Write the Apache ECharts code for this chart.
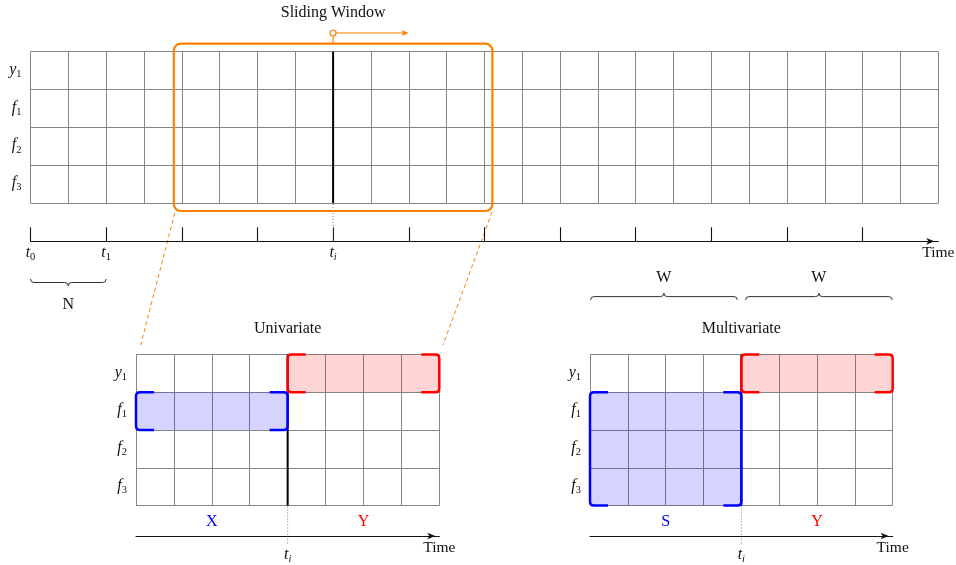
<!DOCTYPE html>
<html><head><meta charset="utf-8">
<script src="https://cdn.jsdelivr.net/npm/echarts@6/dist/echarts.min.js"></script>
<style>html,body{margin:0;padding:0;background:#fff}#c{width:956px;height:565px}</style>
</head><body><div id="c"></div>
<script>
// ---------------- data ----------------
const rowLabels = ['y_1', 'f_1', 'f_2', 'f_3'];          // top to bottom
const rows = 4;
const topColumns = 24;
const windowCols = 8;
const windowSpan = [4, 12];                               // columns covered by sliding window
const tiColumn = 8;                                       // t_i in the long series
const tiLower = 4;                                        // t_i in the zoomed window
const topTickValues = [0, 2, 4, 6, 8, 10, 12, 14, 16, 18, 20, 22];
const timeLabelValues = [0, 2, 8];
const timeLabelText = ['t_0', 't_1', 't_i'];
const braceN = [0, 2];
const halfLabelValues = [2, 6];
const uniHalfLabels = ['X', 'Y'];
const multiHalfLabels = ['S', 'Y'];
const uniBoxes = [
  { x: [0, 4], y: [2, 3], kind: 'in' },
  { x: [4, 8], y: [3, 4], kind: 'out' }
];
const multiBoxes = [
  { x: [0, 4], y: [0, 3], kind: 'in' },
  { x: [4, 8], y: [3, 4], kind: 'out' }
];
const multiBraces = [[0, 4], [4, 8]];
const braceLabels = ['W', 'W'];

// ---------------- style ----------------
const FONT = '"Liberation Serif", "DejaVu Serif", serif';
const ORANGE = '#ff8000';
const GRIDC = '#858585';
const INK = '#111';
const TOP_AXIS_OFFSET = 38.3;
const LOW_AXIS_OFFSET = 30.5;
const KIND = {
  in: { fill: 'rgba(0,0,255,0.17)', stroke: '#0000ff', text: '#0000ff' },
  out: { fill: 'rgba(255,0,0,0.17)', stroke: '#ff0000', text: '#ff0000' }
};
const rich = {
  m: { fontFamily: FONT, fontStyle: 'italic', fontSize: 16, lineHeight: 18, verticalAlign: 'top', color: INK },
  s: { fontFamily: FONT, fontSize: 10.5, lineHeight: 10, verticalAlign: 'bottom', color: INK },
  si: { fontFamily: FONT, fontStyle: 'italic', fontSize: 10.5, lineHeight: 10, verticalAlign: 'bottom', color: INK },
  b: { fontFamily: FONT, fontSize: 16, color: KIND.in.text },
  r: { fontFamily: FONT, fontSize: 16, color: KIND.out.text }
};
function subFmt(s) {
  const p = s.split('_');
  return '{m|' + p[0] + '}{' + (/\d/.test(p[1]) ? 's' : 'si') + '|' + p[1] + '}';
}
function bracePath(x1, x2, y, r, dir) {
  const xm = (x1 + x2) / 2, y1 = y + dir * r, y2 = y + 2 * dir * r;
  return 'M' + x1 + ',' + y + ' Q' + x1 + ',' + y1 + ' ' + (x1 + r) + ',' + y1 +
    ' L' + (xm - r) + ',' + y1 + ' Q' + xm + ',' + y1 + ' ' + xm + ',' + y2 +
    ' Q' + xm + ',' + y1 + ' ' + (xm + r) + ',' + y1 +
    ' L' + (x2 - r) + ',' + y1 + ' Q' + x2 + ',' + y1 + ' ' + x2 + ',' + y;
}
function bracketPath(x, y0, y1, stub, r, side) {
  return 'M' + (x + side * stub) + ',' + y0 + ' L' + (x + side * r) + ',' + y0 +
    ' Q' + x + ',' + y0 + ' ' + x + ',' + (y0 + r) + ' L' + x + ',' + (y1 - r) +
    ' Q' + x + ',' + y1 + ' ' + (x + side * r) + ',' + y1 + ' L' + (x + side * stub) + ',' + y1;
}
function txt(s, x, y, color) {
  return { type: 'text', x: x, y: y, style: { text: s, fontFamily: FONT, fontSize: 16, fill: color || INK, align: 'center', verticalAlign: 'middle' } };
}

function topRender(params, api) {
  const c = [];
  const b = api.coord([tiColumn, 0]), t = api.coord([tiColumn, rows]);
  const wl = api.coord([windowSpan[0], rows]), wr = api.coord([windowSpan[1], 0]);
  const PAD = 8;
  c.push({ type: 'line', shape: { x1: t[0], y1: t[1], x2: b[0], y2: b[1] }, style: { stroke: '#000', lineWidth: 2 } });
  c.push({ type: 'line', shape: { x1: b[0], y1: b[1] + 1, x2: b[0], y2: b[1] + TOP_AXIS_OFFSET }, style: { stroke: '#777', lineWidth: 1, lineDash: [1, 2] } });
  c.push({ type: 'rect', shape: { x: wl[0] - PAD, y: wl[1] - PAD, width: wr[0] - wl[0] + 2 * PAD, height: wr[1] - wl[1] + 2 * PAD, r: 7 }, style: { fill: 'none', stroke: ORANGE, lineWidth: 2.2 } });
  const ky = wl[1] - PAD - 10.7;
  c.push({ type: 'line', shape: { x1: t[0], y1: ky + 3, x2: t[0], y2: wl[1] - PAD }, style: { stroke: ORANGE, lineWidth: 1.2 } });
  c.push({ type: 'circle', shape: { cx: t[0], cy: ky, r: 3 }, style: { fill: '#fff', stroke: ORANGE, lineWidth: 1.2 } });
  const ae = api.coord([tiColumn + 2, rows]);
  c.push({ type: 'line', shape: { x1: t[0] + 3, y1: ky, x2: ae[0] - 4, y2: ky }, style: { stroke: ORANGE, lineWidth: 1.2 } });
  c.push({ type: 'polygon', shape: { points: [[ae[0], ky], [ae[0] - 7, ky - 3], [ae[0] - 5.5, ky], [ae[0] - 7, ky + 3]] }, style: { fill: ORANGE } });
  c.push(txt('Sliding Window', t[0], ky - 20));
  const n0 = api.coord([braceN[0], 0]), n1 = api.coord([braceN[1], 0]);
  const by = n0[1] + TOP_AXIS_OFFSET + 37.7;
  c.push({ type: 'path', shape: { pathData: bracePath(n0[0], n1[0], by, 3.5, 1) }, style: { fill: 'none', stroke: '#333', lineWidth: 1 } });
  c.push(txt('N', (n0[0] + n1[0]) / 2, by + 26));
  return { type: 'group', children: c };
}

function lowerRender(title, boxes, braces) {
  return function (params, api) {
    const c = [];
    const b = api.coord([tiLower, 0]), t = api.coord([tiLower, rows]);
    c.push({ type: 'line', shape: { x1: t[0], y1: t[1], x2: b[0], y2: b[1] }, style: { stroke: '#000', lineWidth: 2 } });
    c.push({ type: 'line', shape: { x1: b[0], y1: b[1] + 1, x2: b[0], y2: b[1] + LOW_AXIS_OFFSET + 8 }, style: { stroke: '#777', lineWidth: 1, lineDash: [1, 2] } });
    boxes.forEach(function (bx) {
      const k = KIND[bx.kind];
      const a = api.coord([bx.x[0], bx.y[1]]), d = api.coord([bx.x[1], bx.y[0]]);
      c.push({ type: 'rect', shape: { x: a[0], y: a[1], width: d[0] - a[0], height: d[1] - a[1], r: 4 }, style: { fill: k.fill } });
      c.push({ type: 'path', shape: { pathData: bracketPath(a[0], a[1], d[1], 18, 4, 1) }, style: { fill: 'none', stroke: k.stroke, lineWidth: 2.5 } });
      c.push({ type: 'path', shape: { pathData: bracketPath(d[0], a[1], d[1], 18, 4, -1) }, style: { fill: 'none', stroke: k.stroke, lineWidth: 2.5 } });
    });
    const top = api.coord([0, rows])[1];
    const mid = api.coord([windowCols / 2, rows])[0];
    c.push(txt(title, mid, top - 25.5));
    braces.forEach(function (br, i) {
      const p0 = api.coord([br[0], rows]), p1 = api.coord([br[1], rows]);
      const x0 = p0[0] + (i === 0 ? 0.5 : 4.3), x1 = p1[0] - (i === 0 ? 4 : 0.5);
      c.push({ type: 'path', shape: { pathData: bracePath(x0, x1, top - 54.5, 3.4, -1) }, style: { fill: 'none', stroke: '#333', lineWidth: 1 } });
      c.push(txt(braceLabels[i], (x0 + x1) / 2, top - 76.5));
    });
    return { type: 'group', children: c };
  };
}

const splitLine = { show: true, lineStyle: { color: GRIDC, width: 1 } };
const hidden = { axisLine: { show: false }, axisTick: { show: false }, axisLabel: { show: false } };
function cellX(grid, max, labels) {
  return Object.assign({ gridIndex: grid, type: 'value', min: 0, max: max, interval: 1, position: 'bottom', splitLine: splitLine }, hidden,
    labels ? { axisLabel: { show: true, customValues: halfLabelValues, margin: 8, formatter: function (v) { const i = halfLabelValues.indexOf(v); return i < 0 ? '' : '{' + (i === 0 ? 'b' : 'r') + '|' + labels[i] + '}'; }, rich: rich } } : {});
}
function timeX(grid, max, offset, ticks, labelVals, labelTxt, margin) {
  return {
    gridIndex: grid, type: 'value', min: 0, max: max, position: 'bottom', offset: offset,
    axisLine: { show: true, onZero: false, lineStyle: { color: INK, width: 1.1 }, symbol: ['none', 'arrow'], symbolSize: [5, 8], symbolOffset: [0, -4] },
    axisTick: ticks ? { show: true, inside: true, length: 14, customValues: ticks, lineStyle: { color: INK, width: 1.1 } } : { show: false },
    axisLabel: { show: true, customValues: labelVals, margin: margin, formatter: function (v) { const i = labelVals.indexOf(v); return i < 0 ? '' : subFmt(labelTxt[i]); }, rich: rich },
    splitLine: { show: false },
    name: 'Time', nameLocation: 'end', nameGap: 0,
    nameTextStyle: { fontFamily: FONT, fontSize: 15.5, color: INK, align: 'center', verticalAlign: 'top', padding: [4, 0, 0, 0] }
  };
}
function cellY(grid) {
  return Object.assign({ gridIndex: grid, type: 'value', min: 0, max: rows, interval: 1, position: 'left', splitLine: splitLine }, hidden);
}
function labelY(grid) {
  return {
    gridIndex: grid, type: 'category', data: rowLabels, inverse: true, position: 'left', boundaryGap: true,
    axisLine: { show: false }, axisTick: { show: false }, splitLine: { show: false },
    axisLabel: { show: true, interval: 0, margin: 9, formatter: subFmt, rich: rich }
  };
}

const chart = echarts.init(document.getElementById('c'), null, { renderer: 'canvas' });
chart.setOption({
  animation: false,
  backgroundColor: '#fff',
  grid: [
    { left: 30.5, top: 51.7, width: 907.8, height: 151.3 },
    { left: 136, top: 354.5, width: 303.3, height: 151 },
    { left: 590, top: 354.5, width: 302.7, height: 151 }
  ],
  xAxis: [
    cellX(0, topColumns),
    timeX(0, topColumns, TOP_AXIS_OFFSET, topTickValues, timeLabelValues, timeLabelText, 3),
    cellX(1, windowCols, uniHalfLabels),
    timeX(1, windowCols, LOW_AXIS_OFFSET, null, [tiLower], ['t_i'], 11),
    cellX(2, windowCols, multiHalfLabels),
    timeX(2, windowCols, LOW_AXIS_OFFSET, null, [tiLower], ['t_i'], 11)
  ],
  yAxis: [cellY(0), labelY(0), cellY(1), labelY(1), cellY(2), labelY(2)],
  series: [
    { type: 'custom', xAxisIndex: 0, yAxisIndex: 0, data: [[0, 0]], renderItem: topRender, silent: true, z: 5 },
    { type: 'custom', xAxisIndex: 2, yAxisIndex: 2, data: [[0, 0]], renderItem: lowerRender('Univariate', uniBoxes, []), silent: true, z: 5 },
    { type: 'custom', xAxisIndex: 4, yAxisIndex: 4, data: [[0, 0]], renderItem: lowerRender('Multivariate', multiBoxes, multiBraces), silent: true, z: 5 }
  ]
});

// dashed connectors from the sliding window to the zoomed-in window
const tl = chart.convertToPixel({ xAxisIndex: 0, yAxisIndex: 0 }, [windowSpan[0], 0]);
const tr = chart.convertToPixel({ xAxisIndex: 0, yAxisIndex: 0 }, [windowSpan[1], 0]);
const ul = chart.convertToPixel({ xAxisIndex: 2, yAxisIndex: 2 }, [0, rows]);
const ur = chart.convertToPixel({ xAxisIndex: 2, yAxisIndex: 2 }, [windowCols, rows]);
const dash = { stroke: ORANGE, lineWidth: 1, lineDash: [4, 3] };
chart.setOption({
  graphic: [
    { type: 'line', silent: true, shape: { x1: tl[0] - 7, y1: tl[1] + 10, x2: ul[0] + 4.7, y2: ul[1] - 9.5 }, style: dash },
    { type: 'line', silent: true, shape: { x1: tr[0] + 7.7, y1: tr[1] + 9, x2: ur[0] + 3.7, y2: ur[1] - 9.5 }, style: dash }
  ]
});
</script></body></html>
